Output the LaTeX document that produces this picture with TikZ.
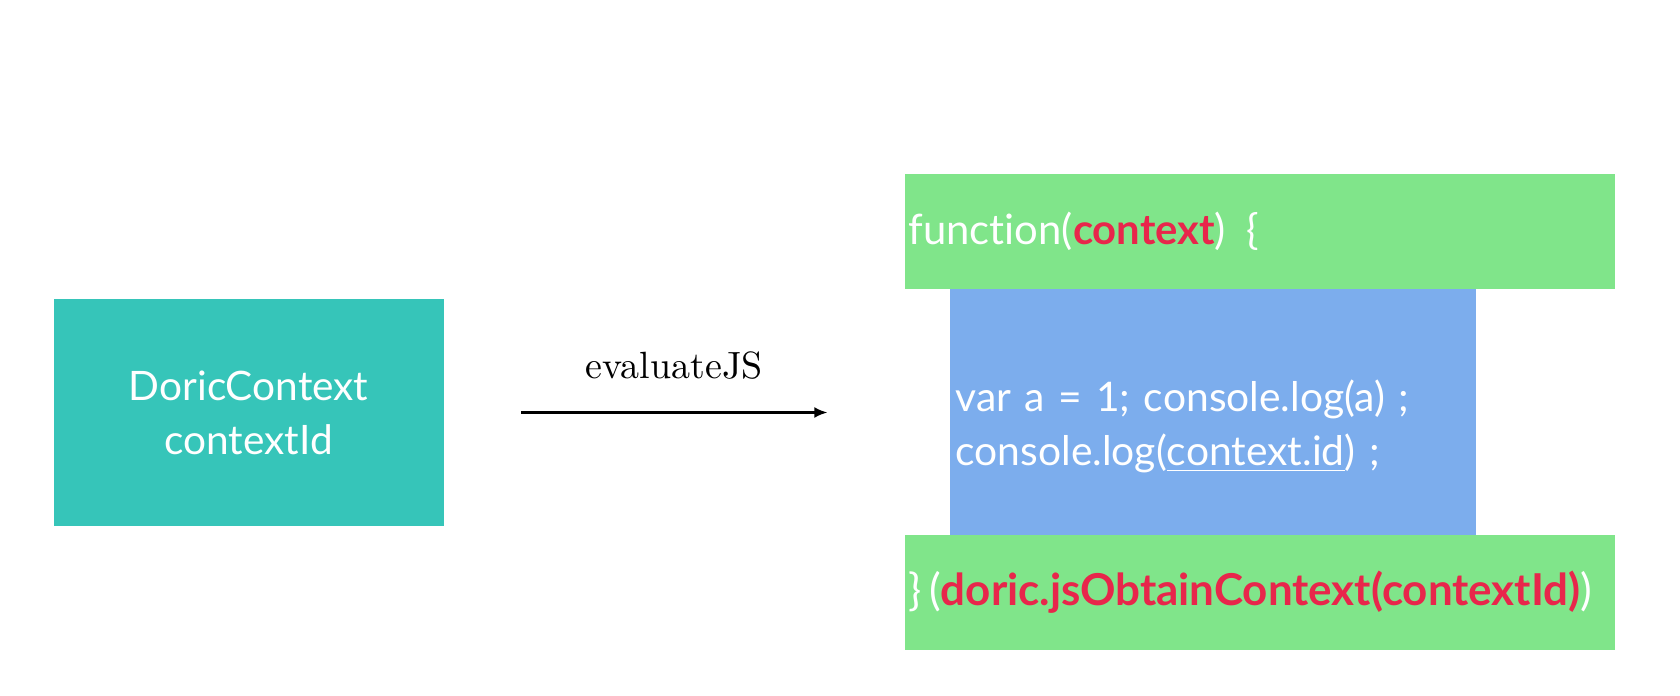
\documentclass[tikz,border=0pt]{standalone}
\usepackage{fontspec}
\setsansfont{Lato}[Ligatures={NoCommon}]
\usepackage{tikz}
\usetikzlibrary{arrows.meta, positioning}

\definecolor{ctxteal}{HTML}{36C5B9}
\definecolor{codegreen}{HTML}{80E58A}
\definecolor{codeblue}{HTML}{7CADED}
\definecolor{keyred}{HTML}{E8264B}

\begin{document}
\begin{tikzpicture}[
        box/.style={draw=none, inner ysep=0pt, text=white, font=\sffamily},
        codebox/.style={box, align=left, minimum height=1.154cm},
        arr/.style={-{Latex[length=1.3mm, width=1.1mm]}, line width=0.6pt}
    ]
        \useasboundingbox (0,0) rectangle (16.8,-6.96);

        % native side
        \node[box, fill=ctxteal, minimum width=3.9cm, minimum height=2.27cm, align=center,
              font=\sffamily\fontsize{11.55}{15.4}\selectfont] (ctx) at (2.486, -4.125)
              {DoricContext\\contextId};

        % js side
        \node[codebox, fill=codegreen, text width=7.026cm, inner xsep=0.035cm,
              font=\sffamily\fontsize{11.9}{15}\selectfont] (fnhead) at (12.598, -2.313)
              {function(\textbf{\color{keyred}context}) \,\{};
        \node[codebox, fill=codeblue, text width=5.146cm, inner xsep=0.057cm,
              minimum height=2.456cm, font=\sffamily\fontsize{11.6}{15.2}\selectfont] (fnbody) at (12.13, -4.118)
              {\rule{0pt}{0.61cm}var a = 1; console.log(a) ;\\console.log(\underline{context.id}) ;};
        \node[codebox, fill=codegreen, text width=7.026cm, inner xsep=0.035cm,
              font=\sffamily\fontsize{12.5}{15}\selectfont] (fntail) at (12.598, -5.923)
              {\}\,(\textbf{\color{keyred}doric.jsObtainContext(contextId)})};

        \draw[arr, shorten <=0.77cm, shorten >=0.77cm] (ctx.east) -- (ctx.east -| fnhead.west)
            node[midway, anchor=base, yshift=0.34cm, font=\fontsize{10.8}{12}\selectfont] (evallabel) {evaluateJS};
    \end{tikzpicture}
\end{document}
